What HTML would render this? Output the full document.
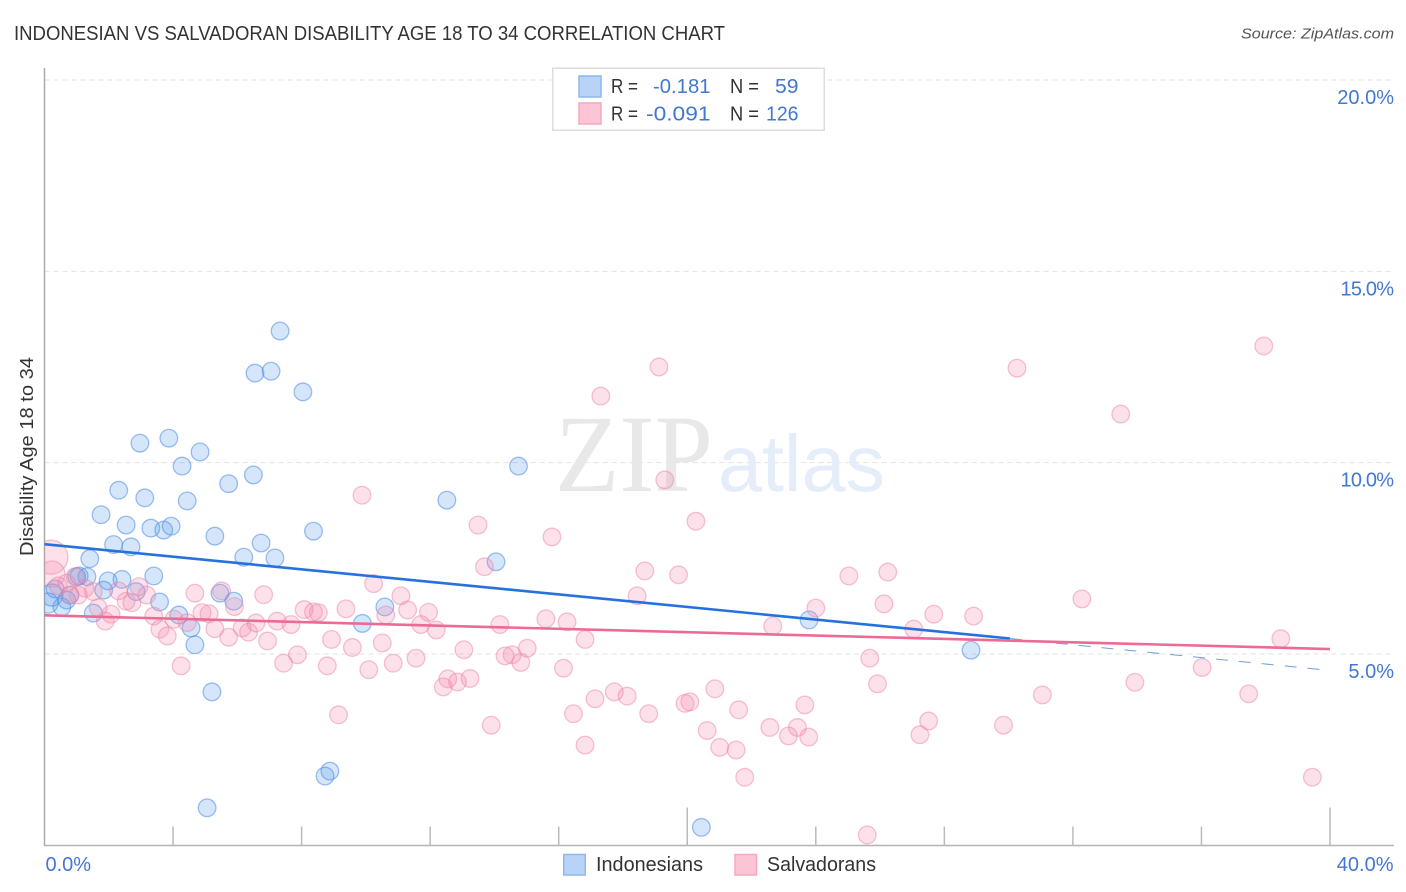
<!DOCTYPE html>
<html lang="en">
<head>
<meta charset="utf-8">
<title>Indonesian vs Salvadoran Disability Age 18 to 34 Correlation Chart</title>
<style>
html,body{margin:0;padding:0;background:#fff;}
svg{display:block;font-family:"Liberation Sans",sans-serif;}
</style>
</head>
<body>
<svg id="chart" xmlns="http://www.w3.org/2000/svg" width="1406" height="892" viewBox="0 0 1406 892">
  <defs>
    <clipPath id="plot-clip"><rect x="44.5" y="60" width="1350" height="785.5"/></clipPath>
  </defs>
  <rect x="0" y="0" width="1406" height="892" fill="#ffffff"/>
  <text x="14" y="40" font-size="20" fill="#333333" textLength="711" lengthAdjust="spacingAndGlyphs">INDONESIAN VS SALVADORAN DISABILITY AGE 18 TO 34 CORRELATION CHART</text>
  <text x="1241" y="38.5" font-size="15" font-style="italic" fill="#555555" textLength="153" lengthAdjust="spacingAndGlyphs">Source: ZipAtlas.com</text>
  <text transform="translate(33,556) rotate(-90)" font-size="18" fill="#333333" textLength="199" lengthAdjust="spacingAndGlyphs">Disability Age 18 to 34</text>
  <g id="grid"></g>
  <text x="555" y="491" font-family="'Liberation Serif',serif" font-size="110" fill="#e8e8e8" textLength="158" lengthAdjust="spacingAndGlyphs">ZIP</text>
  <text x="718" y="491" font-size="80" fill="#e4edf9" textLength="167" lengthAdjust="spacingAndGlyphs">atlas</text>
  <g id="axes"></g>
  <g id="points" clip-path="url(#plot-clip)"></g>
  <g id="trends"></g>
  <g id="labels"></g>

  <g>
    <rect x="552.75" y="68.25" width="271.5" height="62" fill="#ffffff" fill-opacity="0.9" stroke="#dddddd" stroke-width="1.5"/>
    <rect x="579" y="76" width="22" height="21" fill="#b8d3f7" stroke="#8fb8ec" stroke-width="1.5"/>
    <rect x="579" y="103" width="22" height="21" fill="#fcc5d6" stroke="#f5a9c1" stroke-width="1.5"/>
    <text x="611" y="93" font-size="20" fill="#333333" textLength="27" lengthAdjust="spacingAndGlyphs">R =</text>
    <text x="653" y="93" font-size="20" fill="#4278d2" textLength="57.5" lengthAdjust="spacingAndGlyphs">-0.181</text>
    <text x="730" y="93" font-size="20" fill="#333333" textLength="29" lengthAdjust="spacingAndGlyphs">N =</text>
    <text x="775" y="93" font-size="20" fill="#4278d2" textLength="23.5" lengthAdjust="spacingAndGlyphs">59</text>
    <text x="611" y="120.5" font-size="20" fill="#333333" textLength="27" lengthAdjust="spacingAndGlyphs">R =</text>
    <text x="646" y="120.5" font-size="20" fill="#4278d2" textLength="64.5" lengthAdjust="spacingAndGlyphs">-0.091</text>
    <text x="730" y="120.5" font-size="20" fill="#333333" textLength="29" lengthAdjust="spacingAndGlyphs">N =</text>
    <text x="766" y="120.5" font-size="20" fill="#4278d2" textLength="32.5" lengthAdjust="spacingAndGlyphs">126</text>
  </g>

  <g>
    <rect x="563.75" y="854.5" width="21.5" height="20.5" fill="#b8d3f7" stroke="#8fb8ec" stroke-width="1.5"/>
    <text x="596" y="871" font-size="20" fill="#333333" textLength="107" lengthAdjust="spacingAndGlyphs">Indonesians</text>
    <rect x="735" y="854.5" width="21.5" height="20.5" fill="#fcc5d6" stroke="#f5a9c1" stroke-width="1.5"/>
    <text x="767" y="871" font-size="20" fill="#333333" textLength="109" lengthAdjust="spacingAndGlyphs">Salvadorans</text>
  </g>
</svg>
<script>
const yTickValues = [5, 10, 15, 20];
const yTickLabels = ["5.0%", "10.0%", "15.0%", "20.0%"];
const xTickValues = [0, 4, 8, 12, 16, 20, 24, 28, 32, 36, 40];
const xEndValues = [0, 40];
const xEndLabels = ["0.0%", "40.0%"];

const indonesianX = [7.33,7.05,6.55,8.04,3.87,2.97,4.84,4.28,14.75,6.50,5.73,2.31,3.12,4.44,12.52,1.76,2.54,3.31,3.71,3.94,5.30,8.37,2.15,2.69,6.74,6.20,7.17,1.41,14.05,3.40,1.32,1.08,1.00,1.98,2.41,2.85,1.84,0.33,0.79,0.69,0.54,1.52,3.58,4.18,5.46,5.89,4.56,4.68,5.21,10.59,9.89,23.79,28.83,20.44,8.88,8.73,5.06,0.23,0.11];
const indonesianY = [13.44,12.39,12.34,11.85,10.64,10.51,10.28,9.91,9.91,9.68,9.45,9.28,9.08,9.00,9.02,8.64,8.37,8.29,8.24,8.34,8.08,8.21,7.86,7.80,7.90,7.53,7.51,7.49,7.41,7.04,7.02,7.04,7.02,6.91,6.95,6.63,6.67,6.70,6.54,6.41,6.23,6.07,6.36,6.02,6.59,6.38,5.68,5.24,4.01,6.23,5.80,5.89,5.10,0.47,1.94,1.81,0.98,6.54,6.33];
const indonesianWeight = [1,1,1,1,1,1,1,1,1,1,1,1,1,1,1,1,1,1,1,1,1,1,1,1,1,1,1,1,1,1,1,1,1,1,1,1,1,1,1,1,1,1,1,1,1,1,1,1,1,1,1,1,1,1,1,1,1,1.56,1.3];

const salvadoranX = [0.20,0.23,4.68,5.51,6.82,2.94,2.30,2.54,2.72,3.18,1.67,2.07,1.89,1.52,1.26,1.05,0.79,0.43,0.69,0.95,4.90,5.12,5.91,3.40,4.03,4.44,3.59,3.82,5.30,5.73,6.15,6.35,6.58,6.94,7.24,7.67,8.08,8.37,8.52,7.87,7.44,8.80,4.25,9.15,10.24,11.09,9.38,10.62,11.30,11.95,11.71,12.19,8.93,9.58,10.51,14.17,15.60,16.26,16.82,18.44,18.68,19.73,13.69,13.05,15.02,14.55,14.33,14.82,16.15,11.56,10.85,10.09,13.24,12.55,12.85,12.41,13.90,17.13,17.73,18.13,16.46,18.80,16.82,19.93,20.08,20.86,21.60,20.62,21.01,21.52,21.79,22.57,23.15,23.43,23.78,23.66,25.68,25.92,27.51,27.24,25.60,28.91,32.28,38.47,36.02,33.93,37.47,31.05,29.84,39.45,9.88,13.49,15.79,19.12,17.31,30.26,33.49,37.94,19.30,20.27,25.03,26.24,26.12,24.00,27.67,22.66,27.05,19.46];
const salvadoranY = [7.53,7.09,6.59,6.65,6.55,6.76,6.65,6.38,6.34,6.54,6.21,6.04,5.86,6.63,6.72,6.54,6.54,6.78,6.85,7.02,6.08,6.05,6.24,5.99,5.91,5.82,5.65,5.47,5.66,5.44,5.68,5.57,5.81,5.34,5.86,5.77,6.16,6.10,6.08,4.98,4.76,4.69,4.69,3.41,6.84,6.52,6.18,6.02,6.15,6.09,5.77,5.63,5.38,5.17,5.29,5.77,5.92,5.84,5.38,6.52,7.17,7.07,7.28,5.11,5.15,4.98,4.95,4.78,4.63,4.89,4.76,4.59,4.36,4.35,4.27,4.14,3.14,3.83,4.01,3.90,3.44,3.44,2.62,3.71,3.75,4.09,3.54,3.00,2.56,2.49,1.78,3.08,2.86,3.08,2.83,3.67,4.89,4.22,3.25,2.89,0.27,5.99,6.44,5.40,4.65,4.26,3.96,3.93,3.14,1.78,9.15,8.37,8.06,12.50,11.74,12.47,11.27,13.05,9.55,8.47,7.04,7.14,6.31,6.20,6.04,5.73,5.65,19.50];
const salvadoranLargeWeights = [3.73, 2.2];

const indonesianTrendX = [0, 30.04];
const indonesianTrendY = [7.87, 5.405];
const indonesianForecastX = [30.04, 40];
const indonesianForecastY = [5.405, 4.57];
const salvadoranTrendX = [0, 40];
const salvadoranTrendY = [6.01, 5.13];

const SVG_NS = "http://www.w3.org/2000/svg";
function xScale(v) { return 44.5 + v * (1330 - 44.5) / 40; }
function yScale(v) { return 845.33 - v * (845.33 - 80) / 20; }
function rScale(w) { return 8.8 * Math.sqrt(w); }
function make(tag, attrs, parent) {
  const el = document.createElementNS(SVG_NS, tag);
  for (const k in attrs) { el.setAttribute(k, attrs[k]); }
  parent.appendChild(el);
  return el;
}

const grid = document.getElementById("grid");
const axes = document.getElementById("axes");
const labels = document.getElementById("labels");
const points = document.getElementById("points");
const trends = document.getElementById("trends");

yTickValues.forEach(function (v, i) {
  const line = make("line", { x1: 44.5, x2: 1394, y1: yScale(v), y2: yScale(v), stroke: "#e2e2e2", "stroke-width": 1, "stroke-dasharray": "5 4" }, grid);
  
  
  const label = make("text", { x: 1394, y: yScale(v) + 24, "text-anchor": "end", "font-size": 20, fill: "#4278d2" }, labels);
  
  
  label.textContent = yTickLabels[i];
  if (yTickLabels[i].charAt(0) === "1") {
    label.setAttribute("textLength", "53.5");
    label.setAttribute("lengthAdjust", "spacing");
  }
});

const yAxis = make("line", { x1: 44.5, x2: 44.5, y1: 68, y2: 846, stroke: "#aaaaaa", "stroke-width": 1.5 }, axes);


const xAxis = make("line", { x1: 44, x2: 1394, y1: 845.5, y2: 845.5, stroke: "#b4b4b4", "stroke-width": 1.5 }, axes);



xTickValues.forEach(function (v) {
  if (v === 0) { return; }
  const isMajor = v % 20 === 0;
  const tick = make("line", { x1: xScale(v), x2: xScale(v), y1: isMajor ? 807.5 : 826.5, y2: 845.5, stroke: "#bbbbbb", "stroke-width": 1.5 }, axes);
  
  
});

xEndValues.forEach(function (v, i) {
  const isFirst = i === 0;
  const label = make("text", { x: isFirst ? xScale(v) + 1 : 1393.5, y: 871, "text-anchor": isFirst ? "start" : "end", "font-size": 20, fill: "#4278d2" }, labels);
  
  
  label.textContent = xEndLabels[i];
});

indonesianX.forEach(function (x, i) {
  const dot = make("circle", { cx: xScale(x), cy: yScale(indonesianY[i]), r: rScale(indonesianWeight[i]), fill: "#5596ea", "fill-opacity": 0.24, stroke: "#4a8ce2", "stroke-opacity": 0.55, "stroke-width": 1.3 }, points);
  
  
});

salvadoranX.forEach(function (x, i) {
  const weight = i < salvadoranLargeWeights.length ? salvadoranLargeWeights[i] : 1;
  const dot = make("circle", { cx: xScale(x), cy: yScale(salvadoranY[i]), r: rScale(weight), fill: "#f48aac", "fill-opacity": 0.26, stroke: "#ee85a8", "stroke-opacity": 0.5, "stroke-width": 1.3 }, points);
  
  
});

const forecast = make("line", { x1: xScale(indonesianForecastX[0]), y1: yScale(indonesianForecastY[0]), x2: xScale(indonesianForecastX[1]), y2: yScale(indonesianForecastY[1]), stroke: "#6f9edc", "stroke-width": 1, "stroke-dasharray": "12 11" }, trends);



const blueTrend = make("line", { x1: xScale(indonesianTrendX[0]), y1: yScale(indonesianTrendY[0]), x2: xScale(indonesianTrendX[1]), y2: yScale(indonesianTrendY[1]), stroke: "#2672dc", "stroke-width": 2.6 }, trends);



const pinkTrend = make("line", { x1: xScale(salvadoranTrendX[0]), y1: yScale(salvadoranTrendY[0]), x2: xScale(salvadoranTrendX[1]), y2: yScale(salvadoranTrendY[1]), stroke: "#ec6a96", "stroke-width": 2.6 }, trends);


</script>
</body>
</html>
